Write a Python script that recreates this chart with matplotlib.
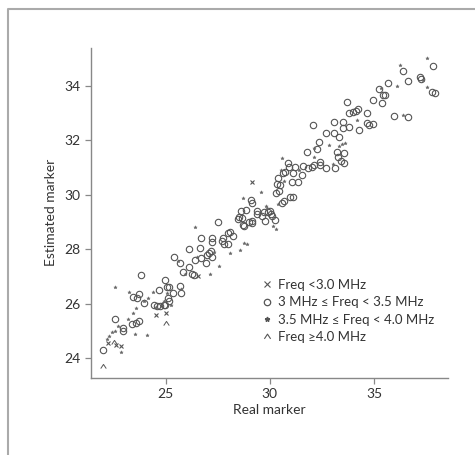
import matplotlib
matplotlib.use("Agg")
import matplotlib.pyplot as plt
from matplotlib.lines import Line2D
from matplotlib.path import Path
import numpy as np

plt.rcParams['font.family'] = ['Lato', 'DejaVu Sans']

# Freq 3 - 3.5 MHz (circles)
circ_x = [21.98, 22.57, 22.97, 22.97, 23.38, 23.55, 23.70, 23.42, 23.74, 23.60, 23.82, 23.98,
          24.44, 24.60, 24.73, 24.90, 24.98, 24.66, 24.97, 25.05, 25.15, 25.13, 25.18, 25.37,
          25.40, 25.70, 25.70, 25.75, 25.82, 26.10, 26.12, 26.25, 26.35, 26.42, 26.65, 26.68,
          26.71, 26.92, 27.00, 27.10, 27.18, 27.24, 27.24, 27.24, 27.53, 27.70, 27.74, 27.80,
          28.00, 28.10, 28.00, 28.25, 28.45, 28.52, 28.60, 28.65, 28.70, 28.78, 28.84, 29.00,
          29.12, 29.15, 29.08, 29.13, 29.37, 29.40, 29.60, 29.72, 29.78, 29.90, 30.00, 30.05,
          30.08, 30.25, 30.30, 30.35, 30.40, 30.45, 30.48, 30.60, 30.70, 30.65, 30.72, 30.85,
          30.90, 30.97, 31.05, 31.13, 31.10, 31.22, 31.37, 31.53, 31.60, 31.77, 31.85, 32.00,
          32.10, 32.08, 32.28, 32.37, 32.40, 32.42, 32.70, 32.70, 33.10, 33.10, 33.13, 33.24,
          33.28, 33.33, 33.40, 33.50, 33.50, 33.56, 33.56, 33.70, 33.82, 33.82, 34.00, 34.12,
          34.22, 34.30, 34.65, 34.65, 34.75, 34.97, 34.97, 35.25, 35.43, 35.52, 35.40, 35.67,
          35.97, 36.38, 36.65, 36.65, 37.20, 37.25, 37.80, 37.92, 37.82]
circ_y = [24.31, 25.43, 25.10, 24.99, 25.25, 25.30, 25.38, 26.26, 26.35, 26.22, 27.04, 26.04,
          25.95, 25.93, 25.90, 25.95, 25.97, 26.50, 26.87, 26.60, 26.62, 26.20, 26.10, 26.38,
          27.70, 27.48, 26.65, 26.38, 27.18, 27.36, 28.00, 27.10, 27.05, 27.60, 28.03, 28.40,
          27.67, 27.48, 27.80, 27.88, 27.92, 28.40, 28.25, 27.70, 29.00, 28.30, 28.42, 28.18,
          28.60, 28.62, 28.20, 28.50, 29.10, 29.20, 29.40, 29.15, 28.90, 28.85, 29.44, 29.00,
          29.05, 28.95, 29.80, 29.70, 29.40, 29.30, 29.22, 29.35, 29.05, 29.38, 29.40, 29.30,
          29.22, 29.07, 30.07, 30.40, 30.60, 30.12, 30.35, 29.70, 29.77, 30.80, 30.85, 31.15,
          31.02, 29.90, 30.45, 29.90, 30.80, 31.00, 30.45, 30.73, 31.05, 31.55, 30.97, 31.00,
          31.10, 32.56, 31.67, 31.95, 31.20, 31.10, 32.25, 30.97, 32.68, 32.25, 30.97, 31.55,
          31.38, 32.10, 31.25, 32.43, 32.68, 31.54, 31.18, 33.40, 32.50, 33.00, 33.05, 33.08,
          33.15, 32.37, 33.00, 32.62, 32.55, 32.60, 33.47, 33.86, 33.65, 33.65, 33.38, 34.08,
          32.90, 34.54, 34.17, 32.86, 34.30, 34.25, 33.75, 33.72, 34.73]

# Freq 3.5 - 4.0 MHz (stars)
star_x = [22.57, 22.20, 22.30, 22.42, 22.55, 22.72, 22.84, 23.20, 23.25, 23.42, 23.53, 23.56,
          23.95, 24.09, 24.17, 24.40, 24.55, 24.90, 25.08, 25.24, 25.61, 25.74, 25.94, 26.40,
          26.52, 27.13, 27.56, 27.30, 28.10, 28.57, 28.75, 28.90, 28.70, 29.58, 29.82, 30.17,
          30.30, 30.38, 30.57, 30.70, 31.38, 32.10, 32.13, 32.86, 33.05, 33.30, 33.46, 33.62,
          34.20, 35.32, 36.10, 36.25, 36.40, 37.53, 37.53, 37.35, 30.52, 29.88]
star_y = [26.60, 24.70, 24.80, 24.98, 25.00, 25.18, 24.23, 25.45, 26.45, 25.65, 24.90, 25.84,
          26.10, 24.85, 26.20, 26.45, 25.88, 26.10, 26.38, 25.95, 27.56, 26.55, 27.10, 28.83,
          27.70, 27.10, 27.40, 27.90, 27.87, 27.97, 28.22, 28.20, 29.87, 30.11, 29.60, 28.85,
          28.75, 29.65, 31.33, 30.50, 30.90, 31.70, 31.40, 31.82, 31.12, 31.80, 31.85, 31.88,
          32.74, 33.90, 34.00, 34.76, 32.93, 35.00, 33.94, 34.20, 30.90, 29.50]

# Freq < 3.0 MHz
low_x = [29.13, 22.25, 22.84, 24.54, 25.00, 26.57, 22.60]
low_y = [30.48, 24.55, 24.46, 25.59, 25.65, 27.03, 24.48]

# Freq >= 4.0 MHz
high_x = [21.98, 25.00, 22.50]
high_y = [23.73, 25.31, 24.60]

labels = ['Freq <3.0 MHz', '3 MHz \u2264 Freq < 3.5 MHz',
          '3.5 MHz \u2264 Freq < 4.0 MHz', 'Freq \u22654.0 MHz']

# open caret marker (like "^")
caret = Path([(-0.8, -0.6), (0, 0.6), (0.8, -0.6)],
             [Path.MOVETO, Path.LINETO, Path.LINETO])

fig = plt.figure(figsize=(4.75, 4.55), dpi=100)
ax = fig.add_axes([0.191, 0.170, 0.752, 0.725])

mc = '#555555'
ax.plot(circ_x, circ_y, 'o', ms=4.6, mfc='none', mec=mc, mew=0.8, ls='none')
ax.plot(star_x, star_y, '*', ms=2.6, color='#666666', mew=0.3, ls='none')
ax.plot(low_x, low_y, 'x', ms=3.2, color=mc, mew=0.8, ls='none')
ax.plot(high_x, high_y, marker=caret, ms=4, mfc='none', mec=mc, mew=0.7, ls='none')

ax.set_xlim(21.4, 38.55)
ax.set_ylim(23.29, 35.39)
ax.set_xticks([25, 30, 35])
ax.set_yticks([24, 26, 28, 30, 32, 34])

for s in ['top', 'right']:
    ax.spines[s].set_visible(False)
for s in ['left', 'bottom']:
    ax.spines[s].set_color('#888888')
    ax.spines[s].set_linewidth(1.0)
ax.tick_params(colors='#888888', labelcolor='#333333', labelsize=10, length=4, width=0.9)

ax.set_xlabel('Real marker', fontsize=10, color='#333333', labelpad=3)
ax.set_ylabel('Estimated marker', fontsize=10, color='#333333', labelpad=5)

handles = [
    Line2D([], [], marker='x', ms=4, color=mc, mew=0.8, ls='none'),
    Line2D([], [], marker='o', ms=4.6, mfc='none', mec=mc, mew=0.9, ls='none'),
    Line2D([], [], marker='*', ms=3.5, color=mc, ls='none'),
    Line2D([], [], marker=caret, ms=4.5, mfc='none', mec=mc, mew=0.8, ls='none'),
]
ax.legend(handles, labels, loc='upper left', bbox_to_anchor=(0.45, 0.335),
          frameon=False, fontsize=9.5, handlelength=0.6, handletextpad=0.5,
          labelspacing=0.4, labelcolor='#333333')

# outer frame of the figure panel
fig.add_artist(Line2D([8 / 475, 8 / 475, 1.0], [0.0, 1 - 9 / 455, 1 - 9 / 455],
                      transform=fig.transFigure, color='#aaaaaa', lw=1.5))

fig.savefig('out.png', dpi=100)
